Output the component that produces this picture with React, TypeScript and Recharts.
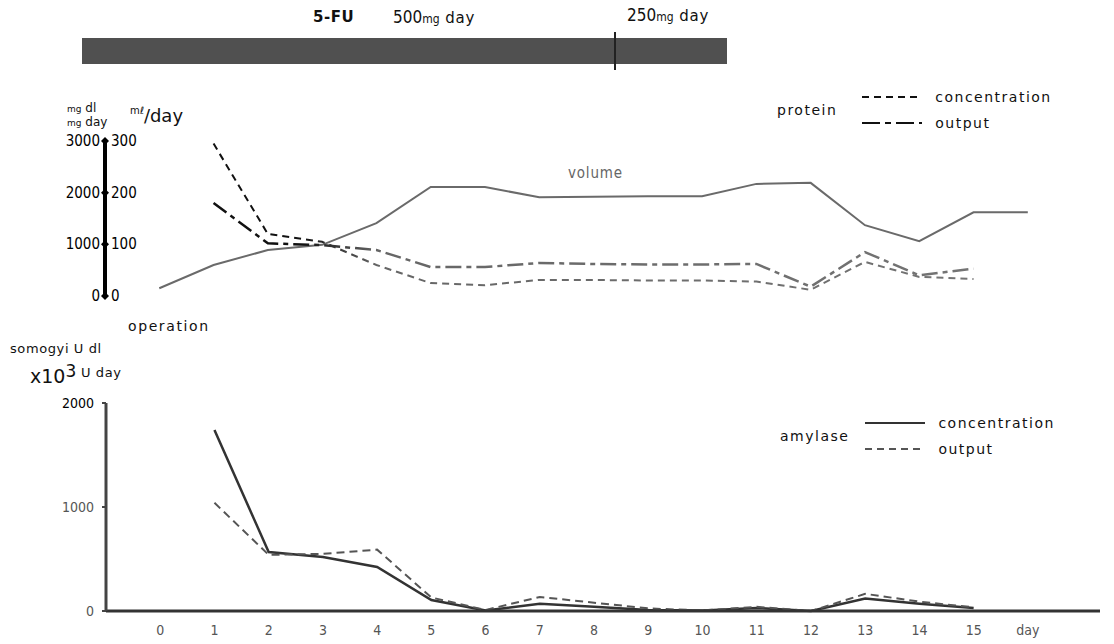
import { LineChart, Line, XAxis, YAxis } from 'recharts';

// days after operation (16 = end of axis, labelled "day")
const days = [0, 1, 2, 3, 4, 5, 6, 7, 8, 9, 10, 11, 12, 13, 14, 15, 16];

// top panel
const volume = [15, 60, 89, 99, 141, 211, 211, 191, 192, 193, 193, 217, 219, 137, 106, 162, 162];
const proteinConc = [null, 2950, 1200, 1050, 600, 250, 210, 310, 310, 300, 300, 280, 120, 660, 370, 330, null];
const proteinOutput = [null, 1800, 1020, 985, 890, 560, 560, 640, 620, 610, 610, 620, 180, 850, 400, 530, null];

// bottom panel
const amylaseConc = [null, 1740, 567, 520, 423, 106, 5, 70, 40, 10, 5, 30, 0, 120, 70, 30, null];
const amylaseOutput = [null, 1040, 540, 550, 590, 130, 10, 135, 80, 25, 5, 40, 0, 165, 90, 35, null];

const proteinTicks = [0, 1000, 2000, 3000];
const volumeTicks = [0, 100, 200, 300];
const amylaseTicks = [0, 1000, 2000];
const dayTicks = days;

const topData = days.map((d, i) => ({
  day: d,
  volume: volume[i],
  conc: proteinConc[i],
  output: proteinOutput[i],
}));

const bottomData = days.map((d, i) => ({
  day: d,
  conc: amylaseConc[i],
  output: amylaseOutput[i],
}));

const NUM_FONT = '"Liberation Sans Narrow", "DejaVu Sans Condensed", Arial, sans-serif';
const LBL_FONT = '"DejaVu Sans", Verdana, sans-serif';
const X_DOMAIN: [number, number] = [-1, 17.33];

// tick of the thick protein axis: diamond + mg label on the left
const ProteinTick = (props: any) => {
  const { x, y, payload } = props;
  return (
    <g>
      <path d={`M${x} ${y - 4} L${x + 4} ${y} L${x} ${y + 4} L${x - 4} ${y} Z`} fill="#000" />
      <text x={x - 5} y={y + 5} textAnchor="end" fontFamily={NUM_FONT} fontSize={15} fill="#000">
        {payload.value}
      </text>
    </g>
  );
};

// volume labels sit to the right of the same axis line
const VolumeTick = (props: any) => {
  const { x, y, payload } = props;
  return (
    <text x={x + 7} y={y + 5} textAnchor="start" fontFamily={NUM_FONT} fontSize={15} fill="#000">
      {payload.value}
    </text>
  );
};

const AmylaseTick = (props: any) => {
  const { x, y, payload } = props;
  return (
    <text x={x - 8} y={y + 5} textAnchor="end" fontFamily={NUM_FONT} fontSize={14}
      fill={payload.value === 2000 ? '#000' : '#555'}>
      {payload.value}
    </text>
  );
};

const DayTick = (props: any) => {
  const { x, y, payload } = props;
  return (
    <text x={x} y={y + 24} textAnchor="middle" fontFamily={NUM_FONT} fontSize={14} fill="#555">
      {payload.value === 16 ? 'day' : payload.value}
    </text>
  );
};

const LegendBlock = ({ title, rows, left, top, gap }: {
  title: string; left: number; top: number; gap: number;
  rows: { label: string; dash: string; color: string }[];
}) => (
  <div style={{ position: 'absolute', left, top, display: 'flex', alignItems: 'center', fontFamily: LBL_FONT, fontSize: 14, color: '#111', letterSpacing: 1.5 }}>
    <span style={{ marginRight: gap }}>{title}</span>
    <div>
      {rows.map((r) => (
        <div key={r.label} style={{ display: 'flex', alignItems: 'center', height: 26 }}>
          <svg width={60} height={6}>
            <line x1={0} y1={3} x2={60} y2={3} stroke={r.color} strokeWidth={2} strokeDasharray={r.dash} />
          </svg>
          <span style={{ marginLeft: 13 }}>{r.label}</span>
        </div>
      ))}
    </div>
  </div>
);

export default function App() {
  return (
    <div style={{ position: 'absolute', left: 0, top: 0, width: 1114, height: 644, background: '#fff', overflow: 'hidden' }}>
      {/* 5-FU administration bar */}
      <div style={{ position: 'absolute', left: 82, top: 38, width: 645, height: 26, background: '#505050' }} />
      <div style={{ position: 'absolute', left: 614, top: 32, width: 2, height: 38, background: '#222' }} />
      <div style={{ position: 'absolute', left: 313, top: 8, fontFamily: LBL_FONT, fontSize: 15, fontWeight: 'bold', color: '#111', letterSpacing: 0.5 }}>5-FU</div>
      <div style={{ position: 'absolute', left: 393, top: 7, fontFamily: NUM_FONT, fontSize: 17, color: '#111' }}>
        500<span style={{ fontSize: 12 }}>mg</span>
        <span style={{ fontFamily: LBL_FONT, fontSize: 15, letterSpacing: 0.8 }}> day</span>
      </div>
      <div style={{ position: 'absolute', left: 627, top: 5, fontFamily: NUM_FONT, fontSize: 17, color: '#111' }}>
        250<span style={{ fontSize: 12 }}>mg</span>
        <span style={{ fontFamily: LBL_FONT, fontSize: 15, letterSpacing: 0.8 }}> day</span>
      </div>

      {/* top axis units */}
      <div style={{ position: 'absolute', left: 67, top: 102, fontFamily: LBL_FONT, fontSize: 12, lineHeight: '13px', color: '#111' }}>
        <span style={{ fontSize: 9 }}>mg</span> dl<br /><span style={{ fontSize: 9 }}>mg</span> day
      </div>
      <div style={{ position: 'absolute', left: 130, top: 105, fontFamily: LBL_FONT, fontSize: 18, color: '#111' }}>
        <span style={{ fontSize: 10, verticalAlign: 'top' }}>mℓ</span>/day
      </div>
      <div style={{ position: 'absolute', left: 128, top: 318, fontFamily: LBL_FONT, fontSize: 14, color: '#111', letterSpacing: 1.6 }}>operation</div>
      <div style={{ position: 'absolute', left: 568, top: 164, fontFamily: NUM_FONT, fontSize: 15, color: '#666', letterSpacing: 0.8 }}>volume</div>

      {/* bottom axis units */}
      <div style={{ position: 'absolute', left: 10, top: 341, fontFamily: LBL_FONT, fontSize: 13, lineHeight: '15px', color: '#111', letterSpacing: 0.6 }}>somogyi U dl</div>
      <div style={{ position: 'absolute', left: 30, top: 366, fontFamily: LBL_FONT, fontSize: 19, lineHeight: '20px', color: '#111' }}>
        x10<span style={{ fontSize: 17, position: 'relative', top: -6 }}>3</span>
        <span style={{ fontSize: 13, position: 'relative', top: -6, letterSpacing: 0.6 }}> U day</span>
      </div>

      {/* protein / volume panel */}
      <div style={{ position: 'absolute', left: 0, top: 0 }}>
        <LineChart width={1114} height={330} data={topData} margin={{ top: 141, right: 14, bottom: 34, left: 103 }}>
          <defs>
            <linearGradient id="fade" x1="0" y1="0" x2="1114" y2="0" gradientUnits="userSpaceOnUse">
              <stop offset="0.27" stopColor="#111" />
              <stop offset="0.34" stopColor="#666" />
              <stop offset="1" stopColor="#777" />
            </linearGradient>
          </defs>
          <XAxis dataKey="day" type="number" domain={X_DOMAIN} hide />
          <YAxis yAxisId="p" domain={[0, 3000]} ticks={proteinTicks} width={1} tickSize={0} tickMargin={0}
            axisLine={{ stroke: '#000', strokeWidth: 4 }} tickLine={false} tick={<ProteinTick />} />
          <YAxis yAxisId="v" domain={[0, 300]} ticks={volumeTicks} width={1} tickSize={0} tickMargin={0}
            axisLine={false} tickLine={false} tick={<VolumeTick />} />
          <Line yAxisId="v" dataKey="volume" stroke="#6a6a6a" strokeWidth={2} dot={false} isAnimationActive={false} />
          <Line yAxisId="p" dataKey="conc" stroke="url(#fade)" strokeWidth={2} strokeDasharray="7 5" dot={false} isAnimationActive={false} />
          <Line yAxisId="p" dataKey="output" stroke="url(#fade)" strokeWidth={2.5} strokeDasharray="16 5 5 5" dot={false} isAnimationActive={false} />
        </LineChart>
      </div>

      {/* amylase panel */}
      <div style={{ position: 'absolute', left: 0, top: 0 }}>
        <LineChart width={1114} height={644} data={bottomData} margin={{ top: 403, right: 14, bottom: 0, left: 105 }}>
          <XAxis dataKey="day" type="number" domain={X_DOMAIN} ticks={dayTicks} interval={0} tickSize={0} tickMargin={0}
            axisLine={{ stroke: '#333', strokeWidth: 3 }} tickLine={false} tick={<DayTick />} height={33} />
          <YAxis domain={[0, 2000]} ticks={amylaseTicks} width={1} tickMargin={0}
            axisLine={{ stroke: '#444', strokeWidth: 3 }} tickLine={{ stroke: '#444', strokeWidth: 2 }} tickSize={4} tick={<AmylaseTick />} />
          <Line dataKey="conc" stroke="#333" strokeWidth={2.5} dot={false} isAnimationActive={false} />
          <Line dataKey="output" stroke="#555" strokeWidth={2} strokeDasharray="8 5" dot={false} isAnimationActive={false} />
        </LineChart>
      </div>

      <LegendBlock title="protein" left={777} top={84} gap={25} rows={[
        { label: 'concentration', dash: '7 5', color: '#111' },
        { label: 'output', dash: '18 5 6 5', color: '#111' },
      ]} />
      <LegendBlock title="amylase" left={780} top={410} gap={16} rows={[
        { label: 'concentration', dash: '', color: '#333' },
        { label: 'output', dash: '7 5', color: '#555' },
      ]} />
    </div>
  );
}
